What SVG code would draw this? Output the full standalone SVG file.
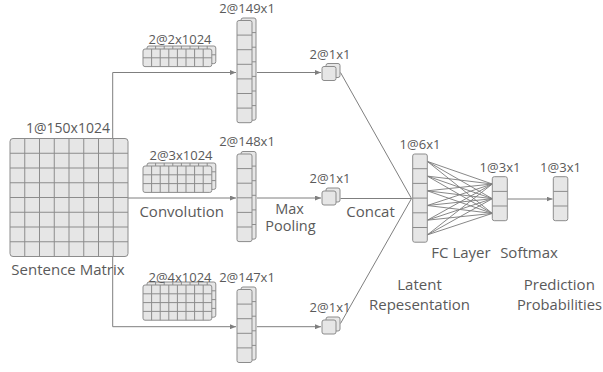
<svg xmlns="http://www.w3.org/2000/svg" xmlns:xlink="http://www.w3.org/1999/xlink" width="603" height="372" viewBox="0 0 603 372">
<style>
.cell{fill:#e6e6e6;stroke:#8c8c8c;stroke-width:1}
.grid{fill:none;stroke:#8c8c8c;stroke-width:1}
.con{fill:none;stroke:#7f7f7f;stroke-width:1}
.fc{fill:none;stroke:#7a7a7a;stroke-width:0.9}
text{font-family:"Open Sans","Noto Sans","Liberation Sans",sans-serif;fill:#5a5a5a;text-anchor:middle}
.dim{font-size:13px}
.lab{font-size:15px}
</style>
<defs>
<marker id="ah" markerUnits="userSpaceOnUse" markerWidth="6" markerHeight="5" refX="6" refY="2.5" orient="auto">
<path d="M0,0 L6,2.5 L0,5 z" fill="#7f7f7f"/>
</marker>
<g id="blk2"><rect class="cell" x="0" y="0" width="68.8" height="17.6" rx="2"/><path class="grid" d="M8.6,0V17.6M17.2,0V17.6M25.8,0V17.6M34.4,0V17.6M43,0V17.6M51.6,0V17.6M60.2,0V17.6M0,8.8H68.8"/></g>
<g id="blk3"><rect class="cell" x="0" y="0" width="68.8" height="26.4" rx="2"/><path class="grid" d="M8.6,0V26.4M17.2,0V26.4M25.8,0V26.4M34.4,0V26.4M43,0V26.4M51.6,0V26.4M60.2,0V26.4M0,8.8H68.8M0,17.6H68.8"/></g>
<g id="blk4"><rect class="cell" x="0" y="0" width="68.8" height="35.2" rx="2"/><path class="grid" d="M8.6,0V35.2M17.2,0V35.2M25.8,0V35.2M34.4,0V35.2M43,0V35.2M51.6,0V35.2M60.2,0V35.2M0,8.8H68.8M0,17.6H68.8M0,26.4H68.8"/></g>
<g id="col7"><rect class="cell" x="0" y="0" width="15" height="102.2" rx="2"/><path class="grid" d="M0,14.6H15M0,29.2H15M0,43.8H15M0,58.4H15M0,73H15M0,87.6H15"/></g>
<g id="col6"><rect class="cell" x="0" y="0" width="15" height="87.6" rx="2"/><path class="grid" d="M0,14.6H15M0,29.2H15M0,43.8H15M0,58.4H15M0,73H15"/></g>
<g id="col5"><rect class="cell" x="0" y="0" width="15" height="73" rx="2"/><path class="grid" d="M0,14.6H15M0,29.2H15M0,43.8H15M0,58.4H15"/></g>
<rect id="pool" class="cell" x="0" y="0" width="14" height="14" rx="2"/>
</defs>

<g id="connectors">
<path class="con" d="M112.7,72.5V326.7"/>
<path class="con" d="M112.7,72.5H236" marker-end="url(#ah)"/>
<path class="con" d="M128,198H236" marker-end="url(#ah)"/>
<path class="con" d="M112.7,326.7H236" marker-end="url(#ah)"/>
<path class="con" d="M257,72.5H321" marker-end="url(#ah)"/>
<path class="con" d="M257,198H321" marker-end="url(#ah)"/>
<path class="con" d="M257,326.7H321" marker-end="url(#ah)"/>
<path class="con" d="M340.5,72.5L411.5,198.5"/>
<path class="con" d="M340.5,198.5H411.5"/>
<path class="con" d="M340.5,323.5L411.5,198.5"/>
<path class="con" d="M507.3,199H552.5" marker-end="url(#ah)"/>
<g id="fc-lines">
<path class="fc" d="M427.3,161.4L492.3,184M427.3,161.4L492.3,198.7M427.3,161.4L492.3,213.4"/>
<path class="fc" d="M427.3,176.1L492.3,184M427.3,176.1L492.3,198.7M427.3,176.1L492.3,213.4"/>
<path class="fc" d="M427.3,190.8L492.3,184M427.3,190.8L492.3,198.7M427.3,190.8L492.3,213.4"/>
<path class="fc" d="M427.3,205.5L492.3,184M427.3,205.5L492.3,198.7M427.3,205.5L492.3,213.4"/>
<path class="fc" d="M427.3,220.2L492.3,184M427.3,220.2L492.3,198.7M427.3,220.2L492.3,213.4"/>
<path class="fc" d="M427.3,234.9L492.3,184M427.3,234.9L492.3,198.7M427.3,234.9L492.3,213.4"/>
</g>
</g>

<g id="sentence-matrix">
<rect class="cell" x="10" y="138.5" width="118" height="118" rx="3"/>
<path class="grid" d="M24.75,138.5V256.5M39.5,138.5V256.5M54.25,138.5V256.5M69,138.5V256.5M83.75,138.5V256.5M98.5,138.5V256.5M113.25,138.5V256.5M10,153.25H128M10,168H128M10,182.75H128M10,197.5H128M10,212.25H128M10,227H128M10,241.75H128"/>
<text class="dim" x="68" y="132.5" style="font-size:14px">1@150x1024</text>
<text class="lab" x="68" y="275">Sentence Matrix</text>
</g>

<g id="filter-2">
<use xlink:href="#blk2" x="147" y="46"/>
<use xlink:href="#blk2" x="143" y="49"/>
<text class="dim" x="180" y="44">2@2x1024</text>
</g>
<g id="filter-3">
<use xlink:href="#blk3" x="147" y="163"/>
<use xlink:href="#blk3" x="143" y="166"/>
<text class="dim" x="181" y="160">2@3x1024</text>
</g>
<g id="filter-4">
<use xlink:href="#blk4" x="147" y="282"/>
<use xlink:href="#blk4" x="143" y="285"/>
<text class="dim" x="180" y="281.7">2@4x1024</text>
</g>

<g id="fmap-149">
<use xlink:href="#col7" x="241" y="18"/>
<use xlink:href="#col7" x="237" y="20.5"/>
<text class="dim" x="247" y="13">2@149x1</text>
</g>
<g id="fmap-148">
<use xlink:href="#col6" x="241" y="151.5"/>
<use xlink:href="#col6" x="237" y="154"/>
<text class="dim" x="247" y="145.5">2@148x1</text>
</g>
<g id="fmap-147">
<use xlink:href="#col5" x="241" y="287"/>
<use xlink:href="#col5" x="237" y="289.5"/>
<text class="dim" x="247" y="281.5">2@147x1</text>
</g>

<g id="pool-1">
<use xlink:href="#pool" x="326" y="63.5"/>
<use xlink:href="#pool" x="322" y="66.5"/>
<text class="dim" x="330" y="58.5">2@1x1</text>
</g>
<g id="pool-2">
<use xlink:href="#pool" x="326" y="188"/>
<use xlink:href="#pool" x="322" y="191"/>
<text class="dim" x="330" y="183.3">2@1x1</text>
</g>
<g id="pool-3">
<use xlink:href="#pool" x="326" y="317"/>
<use xlink:href="#pool" x="322" y="320"/>
<text class="dim" x="330" y="312">2@1x1</text>
</g>

<g id="latent">
<rect class="cell" x="412.7" y="154" width="14.6" height="88.2" rx="2"/>
<path class="grid" d="M412.7,168.7H427.3M412.7,183.4H427.3M412.7,198.1H427.3M412.7,212.8H427.3M412.7,227.5H427.3"/>
<text class="dim" x="420" y="148.5">1@6x1</text>
</g>
<g id="softmax">
<rect class="cell" x="492.3" y="176.7" width="15" height="44" rx="2"/>
<path class="grid" d="M492.3,191.4H507.3M492.3,206H507.3"/>
<text class="dim" x="500" y="171.7">1@3x1</text>
</g>
<g id="output">
<rect class="cell" x="553.3" y="176.7" width="14.5" height="44" rx="2"/>
<path class="grid" d="M553.3,191.4H567.8M553.3,206H567.8"/>
<text class="dim" x="560.5" y="171.7">1@3x1</text>
</g>

<g id="labels">
<text class="lab" x="181.7" y="217.3">Convolution</text>
<text class="lab" x="289.5" y="213.5" style="font-size:14.5px">Max</text>
<text class="lab" x="290.5" y="231" style="font-size:14.5px">Pooling</text>
<text class="lab" x="370.5" y="217.3">Concat</text>
<text class="lab" x="461" y="258.3">FC Layer</text>
<text class="lab" x="529" y="258.3">Softmax</text>
<text class="lab" x="419.5" y="290">Latent</text>
<text class="lab" x="419.5" y="310">Repesentation</text>
<text class="lab" x="559.3" y="290">Prediction</text>
<text class="lab" x="559.5" y="310" style="font-size:14.7px">Probabilities</text>
</g>
</svg>
